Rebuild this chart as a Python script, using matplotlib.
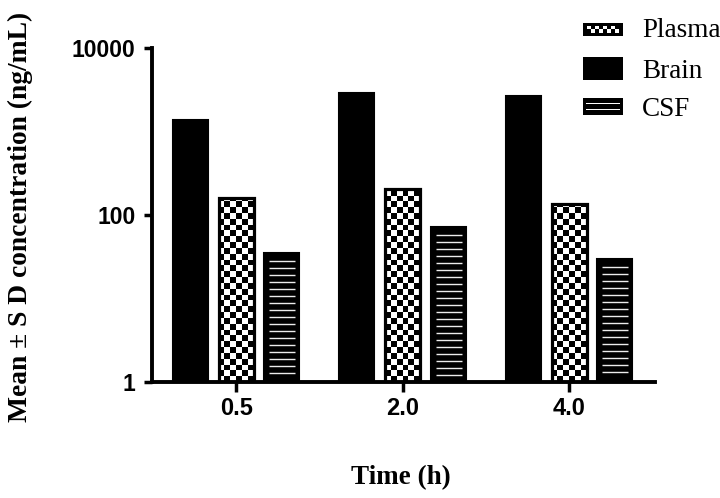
import matplotlib
matplotlib.use("Agg")
import matplotlib.pyplot as plt
import numpy as np
from matplotlib.patches import Rectangle
from matplotlib.ticker import NullLocator, FixedLocator, FixedFormatter

# data (ng/mL)
times = ["0.5", "2.0", "4.0"]
brain = [1380, 2870, 2660]
plasma = [158, 203, 136]
csf = [35, 72, 30]

W, H = 720, 498
SERIF = "Liberation Serif"
SANS = "Liberation Sans"

fig = plt.figure(figsize=(W / 100, H / 100), dpi=100)
ax = fig.add_axes([152 / W, 1 - 382 / H, (655 - 152) / W, (382 - 48) / H])
ax.set_yscale("log")
ax.set_ylim(1, 10000)
ax.set_xlim(-0.505, 2.516)

x = np.arange(len(times))
off, bw = 0.275, 0.21

# bars start at the axis floor (1)
b_brain = ax.bar(x - off, np.array(brain) - 1, bottom=1, width=bw,
                 color="black", edgecolor="black", linewidth=1.5, zorder=2)
b_plasma = ax.bar(x, np.array(plasma) - 1, bottom=1, width=bw,
                  color="white", edgecolor="none", linewidth=0, zorder=2)
b_csf = ax.bar(x + off, np.array(csf) - 1, bottom=1, width=bw,
               color="black", edgecolor="black", linewidth=1.5, zorder=2)

inv = ax.transData.inverted()


def px_rect(x0, y0, x1, y1, **kw):
    """rectangle given in display pixels, placed in data coords"""
    (dx0, dy0), (dx1, dy1) = inv.transform([(x0, y0), (x1, y1)])
    return Rectangle((dx0, dy0), dx1 - dx0, dy1 - dy0, **kw)


# checkerboard fill for plasma
for p in b_plasma:
    bb = p.get_window_extent()
    s = bb.width / 6
    nrows = int(np.ceil(bb.height / s))
    for r in range(nrows):
        for c in range(6):
            if (r + c) % 2 == 0:
                continue
            y0 = bb.y0 + r * s
            y1 = min(y0 + s, bb.y1)
            sq = px_rect(bb.x0 + c * s, y0, bb.x0 + (c + 1) * s, y1,
                         facecolor="black", edgecolor="none", zorder=3)
            ax.add_patch(sq)
ax.bar(x, np.array(plasma) - 1, bottom=1, width=bw, fill=False,
       edgecolor="black", linewidth=2.3, zorder=4)

# white horizontal lines inside CSF bars
for p in b_csf:
    bb = p.get_window_extent()
    yy = bb.y1 - 8
    while yy > bb.y0 + 4:
        (lx0, ly), (lx1, _) = inv.transform([(bb.x0 + 5, yy), (bb.x1 - 4, yy)])
        ax.plot([lx0, lx1], [ly, ly], color="#ececec", lw=1.0,
                solid_capstyle="butt", zorder=3)
        yy -= 7

# axes styling
for side in ("top", "right"):
    ax.spines[side].set_visible(False)
for side in ("left", "bottom"):
    ax.spines[side].set_linewidth(2.8)
    ax.spines[side].set_zorder(5)

ax.yaxis.set_major_locator(FixedLocator([1, 100, 10000]))
ax.yaxis.set_major_formatter(FixedFormatter(["1", "100", "10000"]))
ax.yaxis.set_minor_locator(NullLocator())
ax.set_xticks(x)
ax.set_xticklabels(times)
ax.tick_params(axis="y", length=6, width=2.5, pad=6)
ax.tick_params(axis="x", length=7, width=2.5, pad=4)
for t in ax.get_yticklabels():
    t.set_fontfamily(SANS)
    t.set_fontweight("bold")
    t.set_fontsize(16.5)
for t in ax.get_xticklabels():
    t.set_fontfamily(SANS)
    t.set_fontweight("bold")
    t.set_fontsize(17)

fig.text(20 / W, 1 - 217 / H, "Mean \u00b1 S D concentration (ng/mL)",
         rotation=90, ha="center", va="center", family=SERIF,
         fontweight="bold", fontsize=19.8)
fig.text(401 / W, 1 - 478 / H, "Time (h)", ha="center", va="center",
         family=SERIF, fontweight="bold", fontsize=19.5)


# legend, drawn by hand in figure pixels
def fig_rect(x0, top, x1, bottom, **kw):
    r = Rectangle((x0 / W, 1 - bottom / H), (x1 - x0) / W, (bottom - top) / H,
                  transform=fig.transFigure, **kw)
    fig.add_artist(r)


fig_rect(583, 23, 623, 36, facecolor="black", edgecolor="none")
for r in range(2):
    for c in range(8):
        if (r + c) % 2 == 0:
            fig_rect(587 + c * 4, 26 + r * 3.5, 587 + (c + 1) * 4, 29.5 + r * 3.5,
                     facecolor="white", edgecolor="none")
fig_rect(583, 57, 623, 80, facecolor="black", edgecolor="none")
fig_rect(583, 98, 623, 115, facecolor="black", edgecolor="none")
fig_rect(586, 103, 620, 104.5, facecolor="white", edgecolor="none")
fig_rect(586, 109, 620, 110.5, facecolor="white", edgecolor="none")

for lbl, base in [("Plasma", 37), ("Brain", 78), ("CSF", 116)]:
    fig.text(642 / W, 1 - base / H, lbl, ha="left", va="baseline",
             family=SERIF, fontsize=19.5)

fig.savefig("out.png", dpi=100)
